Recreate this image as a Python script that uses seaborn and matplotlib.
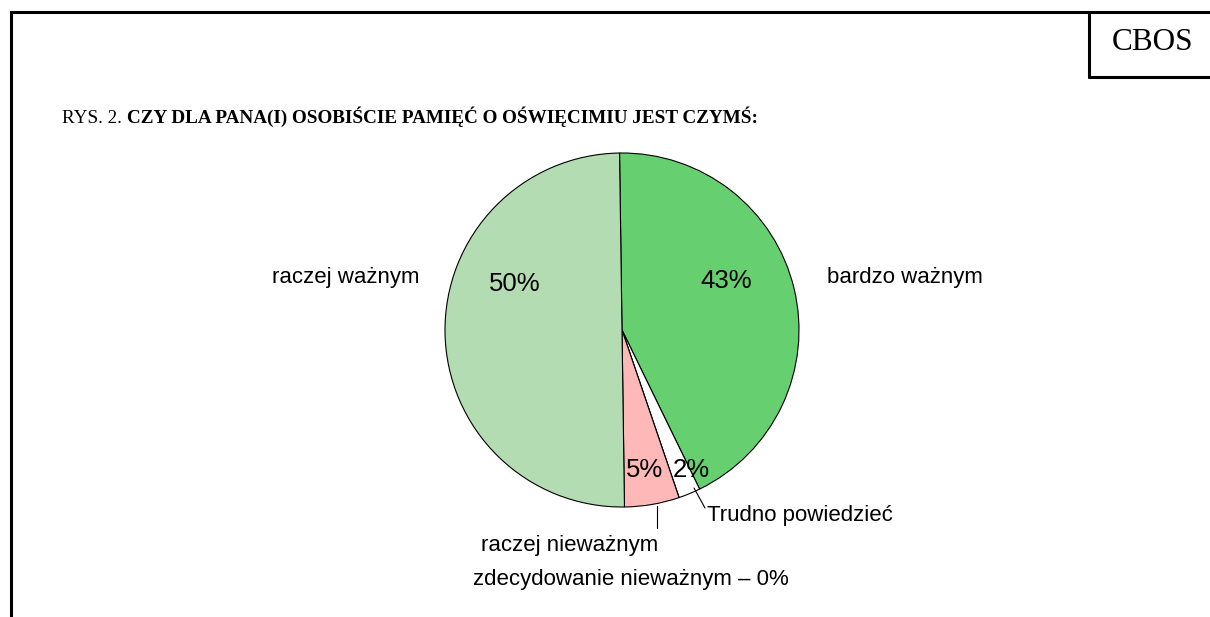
import matplotlib
matplotlib.use("Agg")
import matplotlib.pyplot as plt
import seaborn as sns

sns.set_theme(style="white")
plt.rcParams['font.family'] = ['Liberation Sans', 'DejaVu Sans']
plt.rcParams['text.color'] = 'black'

categories = ["bardzo ważnym", "Trudno powiedzieć", "zdecydowanie nieważnym",
              "raczej nieważnym", "raczej ważnym"]
values = [43, 2, 0, 5, 50]
colors = ["#66CF70", "#FFFFFF", "#CC0000", "#FFB8B8", "#B3DCB3"]
title_prefix = "RYS. 2. "
title_bold = "CZY DLA PANA(I) OSOBIŚCIE PAMIĘĆ O OŚWIĘCIMIU JEST CZYMŚ:"

W, H = 1210, 617
fig = plt.figure(figsize=(W / 100, H / 100), dpi=100)
ax = fig.add_axes([0, 0, 1, 1])

def Y(y):
    return H - y

cx, cy, r = 622, 330, 177
ax.pie(values, colors=colors, startangle=90.8, counterclock=False,
       center=(cx, Y(cy)), radius=r, frame=True,
       wedgeprops=dict(edgecolor="black", linewidth=0.8))
ax.set_xlim(0, W)
ax.set_ylim(0, H)
ax.set_aspect("equal")
ax.axis("off")

# frame
lw = 2.2
ax.plot([11, 11], [Y(12), 0], color="black", lw=lw, solid_capstyle="projecting")
ax.plot([11, W], [Y(12), Y(12)], color="black", lw=lw, solid_capstyle="projecting")
ax.plot([1089, 1089], [Y(12), Y(77)], color="black", lw=lw)
ax.plot([1089, W], [Y(77), Y(77)], color="black", lw=lw)
ax.text(1153, Y(43), "CBOS", family="Liberation Serif", fontsize=22.5,
        ha="center", va="center", color="black")

# title
t = ax.text(62, Y(123), title_prefix, family="Liberation Serif", fontsize=13.8,
            ha="left", va="baseline", color="black")
ax.annotate(title_bold, xy=(1, 0), xycoords=t, xytext=(0, 0),
            textcoords="offset points", family="Liberation Serif",
            fontsize=13.8, fontweight="bold", ha="left", va="bottom",
            color="black")

lab_fs = 16
pct_fs = 18.5
# category labels
ax.text(346, Y(277), categories[4], fontsize=lab_fs, ha="center", va="center")
ax.text(905, Y(277), categories[0], fontsize=lab_fs, ha="center", va="center")
ax.text(707, Y(516), categories[1], fontsize=lab_fs, ha="left", va="center")
ax.text(570, Y(545), categories[3], fontsize=lab_fs, ha="center", va="center")
ax.text(473, Y(579), f"{categories[2]} – {values[2]}%", fontsize=lab_fs,
        ha="left", va="center")

# percentage labels
ax.text(515, Y(284), f"{values[4]}%", fontsize=pct_fs, ha="center", va="center")
ax.text(726, Y(281), f"{values[0]}%", fontsize=pct_fs, ha="center", va="center")
ax.text(645, Y(470), f"{values[3]}%", fontsize=pct_fs, ha="center", va="center")
ax.text(691, Y(470), f"{values[1]}%", fontsize=pct_fs, ha="center", va="center")

# leader lines
ax.plot([657, 657], [Y(506), Y(528)], color="black", lw=0.8)
ax.plot([694, 705], [Y(488), Y(508)], color="black", lw=0.8)

fig.savefig("out.png", dpi=100, facecolor="white")
